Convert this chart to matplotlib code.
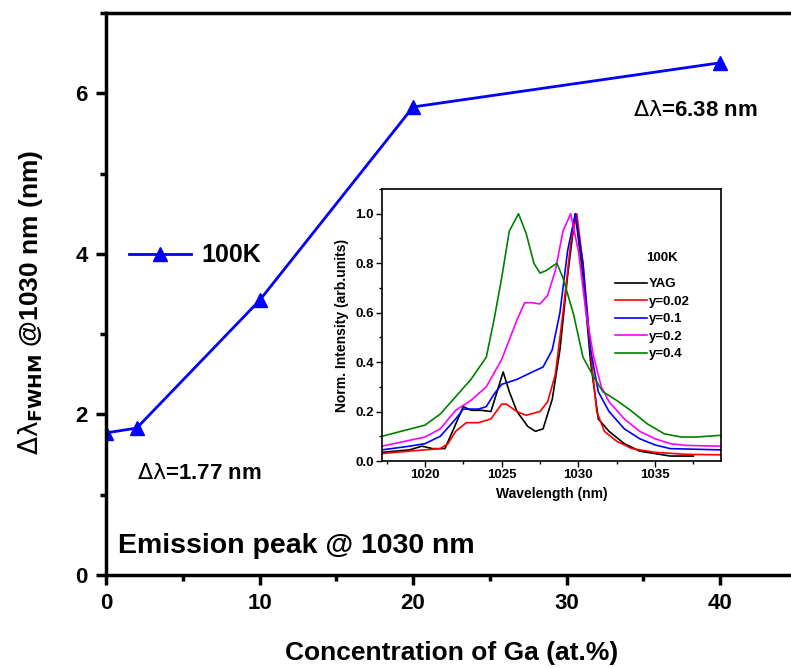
import matplotlib
matplotlib.use("Agg")
import matplotlib.pyplot as plt
from matplotlib.ticker import MultipleLocator

plt.rcParams["font.family"] = ["Liberation Sans", "DejaVu Sans"]
plt.rcParams["mathtext.fontset"] = "dejavusans"

# main series: FWHM vs Ga concentration
ga_conc = [0, 2, 10, 20, 40]
fwhm = [1.77, 1.83, 3.42, 5.83, 6.38]

# inset spectra
wl_yag = [1017.2, 1019.0, 1019.8, 1020.5, 1021.3, 1021.8, 1022.5, 1023.0, 1023.7, 1024.3,
          1024.7, 1025.1, 1025.5, 1026.0, 1026.7, 1027.2, 1027.7, 1028.3, 1028.8, 1029.3,
          1029.8, 1030.3, 1030.8, 1031.3, 1032.0, 1033.0, 1034.0, 1035.0, 1036.0, 1037.5]
int_yag = [0.035, 0.045, 0.06, 0.05, 0.05, 0.12, 0.22, 0.205, 0.205, 0.20,
           0.28, 0.36, 0.28, 0.20, 0.14, 0.12, 0.13, 0.25, 0.45, 0.75,
           1.00, 0.75, 0.40, 0.17, 0.12, 0.07, 0.04, 0.03, 0.02, 0.02]

wl_y002 = [1017.2, 1019.0, 1020.0, 1021.0, 1021.5, 1022.0, 1022.7, 1023.5, 1024.3, 1025.0,
           1025.3, 1026.0, 1026.6, 1027.5, 1028.0, 1028.5, 1029.0, 1029.5, 1029.9, 1030.3,
           1030.7, 1031.2, 1031.7, 1032.5, 1033.5, 1035.0, 1037.0, 1039.3]
int_y002 = [0.03, 0.04, 0.045, 0.05, 0.07, 0.12, 0.155, 0.155, 0.17, 0.23,
            0.23, 0.20, 0.185, 0.20, 0.24, 0.35, 0.60, 0.88, 1.00, 0.80,
            0.50, 0.20, 0.12, 0.08, 0.05, 0.035, 0.027, 0.025]

wl_y01 = [1017.2, 1019.0, 1020.0, 1021.0, 1022.0, 1022.5, 1023.5, 1024.0, 1024.5, 1025.0,
          1026.0, 1027.0, 1027.7, 1028.3, 1028.8, 1029.3, 1029.8, 1030.3, 1030.8, 1031.3,
          1032.0, 1033.0, 1034.0, 1035.0, 1036.0, 1039.3]
int_y01 = [0.045, 0.06, 0.07, 0.10, 0.17, 0.21, 0.21, 0.22, 0.27, 0.31,
           0.33, 0.36, 0.38, 0.45, 0.60, 0.85, 1.00, 0.80, 0.45, 0.28,
           0.20, 0.13, 0.09, 0.065, 0.05, 0.045]

wl_y02 = [1017.2, 1020.0, 1021.0, 1022.0, 1023.0, 1024.0, 1025.0, 1025.5, 1026.0, 1026.5,
          1027.0, 1027.5, 1028.0, 1028.5, 1029.0, 1029.5, 1030.0, 1030.5, 1031.0, 1031.5,
          1032.0, 1033.0, 1034.0, 1035.0, 1036.0, 1037.0, 1039.3]
int_y02 = [0.06, 0.097, 0.13, 0.205, 0.245, 0.30, 0.41, 0.49, 0.57, 0.64,
           0.64, 0.635, 0.67, 0.77, 0.93, 1.00, 0.85, 0.60, 0.42, 0.30,
           0.24, 0.17, 0.12, 0.09, 0.07, 0.063, 0.06]

wl_y04 = [1017.2, 1020.0, 1021.0, 1022.0, 1023.0, 1024.0, 1024.5, 1025.0, 1025.5, 1026.1,
          1026.6, 1027.1, 1027.5, 1027.9, 1028.6, 1029.0, 1029.7, 1030.3, 1031.0, 1031.6,
          1032.5, 1033.4, 1034.5, 1035.6, 1036.7, 1037.7, 1039.3]
int_y04 = [0.10, 0.145, 0.19, 0.26, 0.33, 0.42, 0.57, 0.74, 0.93, 1.00,
           0.92, 0.80, 0.76, 0.77, 0.80, 0.74, 0.59, 0.42, 0.34, 0.28,
           0.245, 0.205, 0.15, 0.11, 0.097, 0.097, 0.104]

W, H = 791, 668
fig = plt.figure(figsize=(W / 100, H / 100), dpi=100)

# main axes (right edge runs slightly past the figure, as in the original)
ax = fig.add_axes([106 / W, (H - 575) / H, 691 / W, 562 / H])
ax.plot(ga_conc, fwhm, color="#0000ff", lw=2, marker="^", ms=10, label="100K")
ax.set_xlim(0, 45)
ax.set_ylim(0, 7)
ax.xaxis.set_major_locator(MultipleLocator(10))
ax.xaxis.set_minor_locator(MultipleLocator(5))
ax.yaxis.set_major_locator(MultipleLocator(2))
ax.yaxis.set_minor_locator(MultipleLocator(1))
for s in ax.spines.values():
    s.set_linewidth(2.5)
ax.tick_params(which="major", direction="out", length=7, width=2.5, labelsize=16, pad=6)
ax.tick_params(which="minor", direction="out", length=4, width=2.5)
for lab in ax.get_xticklabels() + ax.get_yticklabels():
    lab.set_fontweight("bold")

ax.set_xlabel("Concentration of Ga (at.%)", fontsize=19, fontweight="bold")
ax.xaxis.set_label_coords(0.5, -0.117)
ax.set_ylabel(r"$\mathrm{\Delta\lambda}_{\mathbf{FWHM}}$" + " @1030 nm (nm)", fontsize=19,
              fontweight="bold")
ax.yaxis.set_label_coords(-0.088, 0.485)

ax.legend(loc="upper left", bbox_to_anchor=(0.0, 0.63), frameon=False,
          prop={"size": 18, "weight": "bold"}, handlelength=2.5, handletextpad=0.4)

ax.text(2.0, 1.26, r"$\mathrm{\Delta\lambda}$=1.77 nm", fontsize=16, fontweight="bold", va="center")
ax.text(34.3, 5.79, r"$\mathrm{\Delta\lambda}$=6.38 nm", fontsize=16, fontweight="bold", va="center")
ax.text(0.75, 0.36, "Emission peak @ 1030 nm", fontsize=20.5, fontweight="bold", va="center")

# inset spectra
ins = fig.add_axes([382 / W, (H - 461) / H, 339 / W, 272 / H])
ins.plot(wl_yag, int_yag, color="black", lw=1.2, label="YAG")
ins.plot(wl_y002, int_y002, color="red", lw=1.2, label="y=0.02")
ins.plot(wl_y01, int_y01, color="blue", lw=1.2, label="y=0.1")
ins.plot(wl_y02, int_y02, color="magenta", lw=1.2, label="y=0.2")
ins.plot(wl_y04, int_y04, color="green", lw=1.2, label="y=0.4")
ins.set_xlim(1017.2, 1039.3)
ins.set_ylim(0, 1.1)
ins.xaxis.set_major_locator(MultipleLocator(5))
ins.xaxis.set_minor_locator(MultipleLocator(2.5))
ins.yaxis.set_major_locator(MultipleLocator(0.2))
ins.yaxis.set_minor_locator(MultipleLocator(0.1))
for s in ins.spines.values():
    s.set_linewidth(1.2)
ins.tick_params(which="major", direction="out", length=4, width=1, labelsize=9.5, pad=2)
ins.tick_params(which="minor", direction="out", length=2.5, width=1)
for lab in ins.get_xticklabels() + ins.get_yticklabels():
    lab.set_fontweight("bold")
ins.set_xlabel("Wavelength (nm)", fontsize=10, fontweight="bold", labelpad=4)
ins.set_ylabel("Norm. Intensity (arb.units)", fontsize=10, fontweight="bold", labelpad=4)
ins.text(0.826, 0.746, "100K", transform=ins.transAxes, fontsize=9.5, fontweight="bold",
         ha="center", va="center")
ins.legend(loc="upper left", bbox_to_anchor=(0.687, 0.673), frameon=False,
           borderaxespad=0, borderpad=0, prop={"size": 9.5, "weight": "bold"},
           handlelength=2.4, handletextpad=0.2, labelspacing=0.4)

fig.savefig("out.png", dpi=100)
